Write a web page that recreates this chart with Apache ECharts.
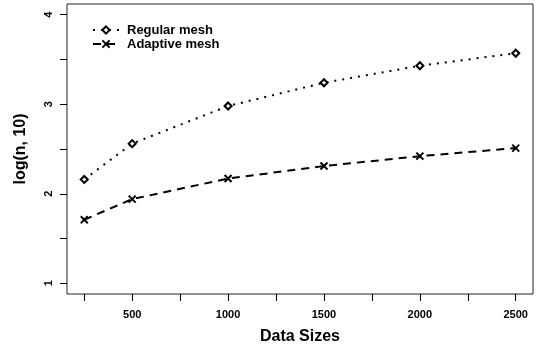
<!DOCTYPE html>
<html>
<head>
<meta charset="utf-8">
<script src="https://cdn.jsdelivr.net/npm/echarts@6/dist/echarts.min.js"></script>
<style>
  html, body { margin: 0; padding: 0; background: #fff; }
  #chart { width: 539px; height: 350px; }
</style>
</head>
<body>
<div id="chart"></div>
<script>
// Problem sizes on the x axis
const dataSizes = [250, 500, 1000, 1500, 2000, 2500];
// log10 of the element count for each mesh type
const regularMesh = [2.16, 2.56, 2.98, 3.24, 3.43, 3.57];
const adaptiveMesh = [1.71, 1.94, 2.17, 2.31, 2.42, 2.51];
// Tick positions and labels
const xTicks = [250, 500, 750, 1000, 1250, 1500, 1750, 2000, 2250, 2500];
const xLabels = [500, 1000, 1500, 2000, 2500];
const yTicks = [1, 1.5, 2, 2.5, 3, 3.5, 4];
const yLabels = [1, 2, 3, 4];

const FONT = '"Liberation Sans", Arial, Helvetica, sans-serif';
const crossPath = 'path://M0,0L10,10M10,0L0,10';

const pairs = ys => dataSizes.map((x, i) => [x, ys[i]]);

const chart = echarts.init(document.getElementById('chart'), null, { renderer: 'canvas' });
chart.setOption({
  animation: false,
  backgroundColor: '#fff',
  textStyle: { fontFamily: FONT },
  grid: {
    left: 67, right: 6, top: 4, bottom: 55,
    show: true, borderColor: '#222', borderWidth: 1, backgroundColor: 'transparent'
  },
  legend: {
    left: 87, top: 18, orient: 'vertical',
    itemWidth: 26, itemHeight: 9, itemGap: 0,
    textStyle: { fontFamily: FONT, fontWeight: 'bold', fontSize: 13, color: '#000',
                 lineHeight: 14, padding: [0, 0, 0, 3] },
    data: ['Regular mesh', 'Adaptive mesh']
  },
  xAxis: {
    type: 'value', min: 160, max: 2590,
    name: 'Data Sizes', nameLocation: 'middle', nameGap: 35,
    nameTextStyle: { fontFamily: FONT, fontWeight: 'bold', fontSize: 16, color: '#000' },
    axisLine: { show: false },
    splitLine: { show: false },
    axisTick: { show: true, inside: false, length: 7, customValues: xTicks,
                lineStyle: { color: '#000', width: 1 } },
    axisLabel: { customValues: xLabels, margin: 15, fontFamily: FONT,
                 fontWeight: 'bold', fontSize: 11, color: '#000',
                 formatter: v => String(v) }
  },
  yAxis: {
    type: 'value', min: 0.88, max: 4.12,
    name: 'log(n, 10)', nameLocation: 'middle', nameGap: 38,
    nameTextStyle: { fontFamily: FONT, fontWeight: 'bold', fontSize: 16, color: '#000' },
    axisLine: { show: false },
    splitLine: { show: false },
    axisTick: { show: true, inside: false, length: 7, customValues: yTicks,
                lineStyle: { color: '#000', width: 1 } },
    axisLabel: { customValues: yLabels, rotate: 90, margin: 13, fontFamily: FONT,
                 fontWeight: 'bold', fontSize: 11, color: '#000',
                 formatter: v => String(v) }
  },
  series: [
    {
      name: 'Regular mesh', type: 'line', data: pairs(regularMesh),
      symbol: 'emptyDiamond', symbolSize: 7,
      itemStyle: { color: '#000', borderColor: '#000', borderWidth: 2 },
      lineStyle: { color: '#000', width: 2, type: [2, 6], cap: 'butt' }
    },
    {
      name: 'Adaptive mesh', type: 'line', data: pairs(adaptiveMesh),
      symbol: crossPath, symbolSize: 7,
      itemStyle: { color: '#000', borderColor: '#000', borderWidth: 2 },
      lineStyle: { color: '#000', width: 2, type: [8, 6], cap: 'butt' }
    }
  ]
});
</script>
</body>
</html>
